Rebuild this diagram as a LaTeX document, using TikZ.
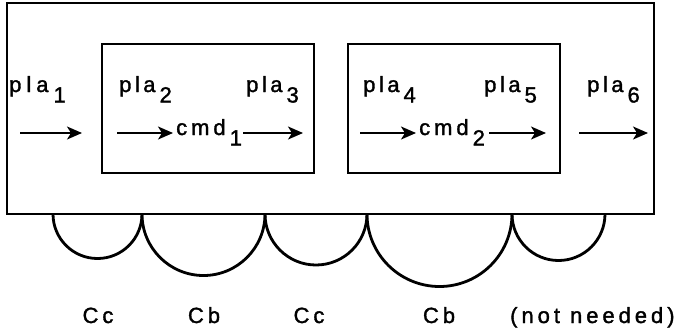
\documentclass[tikz,border=0pt]{standalone}
\usepackage{fontspec}
\setmainfont{Liberation Sans}[LetterSpace=18,FakeBold=1.5]
\usetikzlibrary{arrows.meta}
\newcommand{\sbx}[1]{\kern4pt\raisebox{-10.5pt}{#1}}
\newcommand{\plaw}{p\kern3.5pt l\kern3.5pt a}
\tikzset{
  lbl/.style={inner sep=0pt, anchor=base west, font=\fontsize{22}{24}\selectfont},
  clbl/.style={inner sep=0pt, anchor=base, font=\fontsize{22}{24}\selectfont},
  boxline/.style={line width=1.5pt},
  flow/.style={line width=1.7pt, -{Stealth[length=15pt,width=13pt,inset=4pt]}},
  arcline/.style={line width=2.8pt}
}
\begin{document}
\begin{tikzpicture}[x=1pt,y=-1pt]
\useasboundingbox (0,0) rectangle (684,333);
% boxes
\draw[boxline] (7,3) rectangle (654,214);
\draw[boxline] (102,44) rectangle (314,173);
\draw[boxline] (348,44) rectangle (560,173);
% labels
\node[lbl] (p1) at (9,92) {p\kern5pt l\kern5pt a\kern1pt\sbx{1}};
\node[lbl] (p2) at (119,92) {\plaw\sbx{2}};
\node[lbl] (p3) at (246,92) {\plaw\sbx{3}};
\node[lbl] (p4) at (363,92) {\plaw\sbx{4}};
\node[lbl] (p5) at (484,92) {\plaw\sbx{5}};
\node[lbl] (p6) at (587,92) {\plaw\sbx{6}};
\node[lbl] (c1) at (176,135) {cmd\sbx{1}};
\node[lbl] (c2) at (419,135) {cmd\sbx{2}};
% arrows
\coordinate (a1s) at (20,133); \coordinate (a1e) at (82,133);
\coordinate (a2s) at (117,133); \coordinate (a2e) at (173,133);
\coordinate (a3s) at (243,133); \coordinate (a3e) at (303,133);
\coordinate (a4s) at (360,133); \coordinate (a4e) at (416,133);
\coordinate (a5s) at (489,133); \coordinate (a5e) at (546,133);
\coordinate (a6s) at (579,133); \coordinate (a6e) at (648,133);
\draw[flow] (a1s) -- (a1e);
\draw[flow] (a2s) -- (a2e);
\draw[flow] (a3s) -- (a3e);
\draw[flow] (a4s) -- (a4e);
\draw[flow] (a5s) -- (a5e);
\draw[flow] (a6s) -- (a6e);
% arcs
\coordinate (k0) at (53,214);
\coordinate (k1) at (142,214);
\coordinate (k2) at (265,214);
\coordinate (k3) at (367,214);
\coordinate (k4) at (512,214);
\coordinate (k5) at (605,214);
\draw[arcline] (k0) arc[start angle=180, end angle=0, radius=44.5];
\draw[arcline] (k1) arc[start angle=180, end angle=0, radius=61.5];
\draw[arcline] (k2) arc[start angle=180, end angle=0, radius=51];
\draw[arcline] (k3) arc[start angle=180, end angle=0, radius=72.5];
\draw[arcline] (k4) arc[start angle=180, end angle=0, radius=46.5];
% bottom labels
\node[clbl] (l1) at (98,323) {Cc};
\node[clbl] (l2) at (204,323) {Cb};
\node[clbl] (l3) at (309,323) {Cc};
\node[clbl] (l4) at (439,323) {Cb};
\node[lbl] (l5) at (510,323) {(not needed)};
\end{tikzpicture}
\end{document}
